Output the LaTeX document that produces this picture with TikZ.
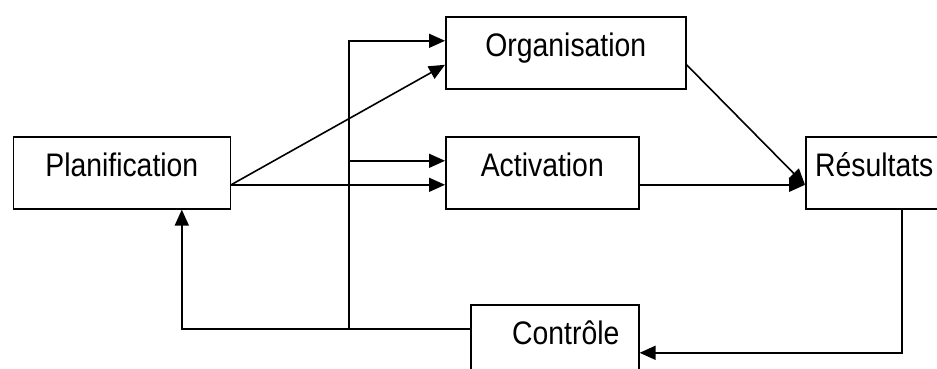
\documentclass[tikz,border=0pt]{standalone}
\usepackage{fontspec}
\setmainfont{Liberation Sans}
\usetikzlibrary{arrows.meta,calc}

\newcommand{\boxlabel}[1]{\scalebox{0.87}[1]{#1}}

\begin{document}
\begin{tikzpicture}[x=0.5pt,y=-0.5pt,>={Triangle[length=8pt,width=7pt]},
  stage/.style={draw,line width=0.8pt,inner sep=0pt,anchor=north west,
    minimum height=36pt,text height=20pt,text depth=16pt,
    font=\fontsize{16.3}{19}\selectfont},
  flow/.style={->,line width=0.8pt}]
  \useasboundingbox (0,0) rectangle (937,369);
  \clip (0,0) rectangle (937,369);

  % the five stages of the management cycle
  \node[stage,minimum width=108.5pt] (plan)   at (12.5,136) {\boxlabel{Planification}};
  \node[stage,minimum width=120pt]   (orga)   at (445,16)   {\boxlabel{Organisation}};
  \node[stage,minimum width=96.5pt]  (activ)  at (445,136)  {\boxlabel{Activation}};
  \node[stage,minimum width=68.5pt]  (result) at (805,136)  {\boxlabel{Résultats}};
  \node[stage,minimum width=84pt]    (ctrl)   at (470,304)  {\hspace*{11pt}\boxlabel{Contrôle}};

  % connection points (upper / lower third of a box side)
  \coordinate (plan-out)  at ([yshift=-6pt]plan.east);
  \coordinate (plan-in)   at ([xshift=30pt]plan.south);
  \coordinate (orga-in1)  at ([yshift=6pt]orga.west);
  \coordinate (orga-in2)  at ([yshift=-6pt]orga.west);
  \coordinate (orga-out)  at ([yshift=-6pt]orga.east);
  \coordinate (activ-in1) at ([yshift=6pt]activ.west);
  \coordinate (activ-in2) at ([yshift=-6pt]activ.west);
  \coordinate (activ-out) at ([yshift=-6pt]activ.east);
  \coordinate (result-in) at ([yshift=-6pt]result.west);
  \coordinate (result-out) at ([xshift=13.75pt]result.south);
  \coordinate (ctrl-in)   at ([yshift=-6pt]ctrl.east);
  \coordinate (ctrl-out)  at ([yshift=6pt]ctrl.west);
  \coordinate (trunk)     at (349,328);

  % forward flow
  \draw[flow] (plan-out) -- (orga-in2);
  \draw[flow] (plan-out) -- (activ-in2);
  \draw[flow] (orga-out) -- (result-in);
  \draw[flow] (activ-out) -- (result-in);

  % feedback loop through the control stage
  \draw[flow] (result-out) |- (ctrl-in);
  \draw[flow] (ctrl-out) -| (plan-in);
  \draw[flow] (trunk) |- (orga-in1);
  \draw[flow] (trunk |- activ-in1) -- (activ-in1);
\end{tikzpicture}
\end{document}
